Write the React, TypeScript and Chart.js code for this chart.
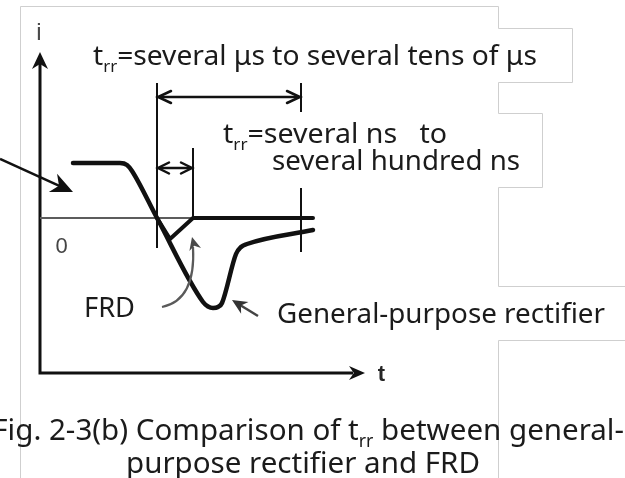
import React, { useEffect, useRef } from "react";
import { Chart, registerables } from "chart.js";

Chart.register(...registerables);

// Reverse-recovery current waveforms: t in time units, i in current units.
const GENERAL_T = [3.3, 8.0, 8.7, 9.2, 11.7, 16.3, 16.8, 17.3, 17.8, 18.2, 19.6, 20.1, 20.7, 27.3];
const GENERAL_I = [5.5, 5.5, 5.3, 4.7, 0, -8.4, -8.85, -9.0, -8.9, -8.5, -3.6, -2.9, -2.6, -1.2];
const FRD_T = [11.7, 13.0, 15.3, 27.3];
const FRD_I = [0, -2.1, 0, 0];
const ZERO_T = [0, 27.3];
const ZERO_I = [0, 0];

// Recovery time markers (t values)
const TRR_START = 11.7;
const FRD_TRR_END = 15.3;
const GENERAL_TRR_END = 26.1;

// Axis extents
const T_MIN = -4.0;
const T_MAX = 58.5;
const I_MIN = -26.0;
const I_MAX = 21.8;
const AXIS_I = -15.5;
const AXIS_T_END = 32.5;
const AXIS_I_TOP = 16.6;

const FONT = '"Noto Sans", "Open Sans", sans-serif';
const AXIS_FONT = '"Liberation Sans", Arial, sans-serif';
const INK = "#1b1b1b";

type Run = { text: string; sub?: boolean };

const TOP_LABEL: Run[] = [{ text: "t" }, { text: "rr", sub: true }, { text: "=several \u03bcs to several tens of \u03bcs" }];
const FAST_LABEL_1: Run[] = [{ text: "t" }, { text: "rr", sub: true }, { text: "=several ns   to" }];
const FAST_LABEL_2: Run[] = [{ text: "several hundred ns" }];
const FRD_LABEL: Run[] = [{ text: "FRD" }];
const GENERAL_LABEL: Run[] = [{ text: "General-purpose rectifier" }];
const CAPTION_1: Run[] = [
  { text: "Fig. 2-3(b) Comparison of t" },
  { text: "rr", sub: true },
  { text: " between general-" },
];
const CAPTION_2: Run[] = [{ text: "purpose rectifier and FRD" }];

function pts(ts: number[], is: number[]) {
  return ts.map((t, k) => ({ x: t, y: is[k] }));
}

function measureRuns(ctx: CanvasRenderingContext2D, runs: Run[], size: number) {
  return runs.map((r) => {
    ctx.font = `${r.sub ? size * 0.6 : size}px ${FONT}`;
    return ctx.measureText(r.text).width;
  });
}

function drawRuns(
  ctx: CanvasRenderingContext2D,
  runs: Run[],
  x: number,
  y: number,
  size: number,
  targetW: number | null,
  align: "left" | "right" = "left",
  scaleOverride?: number
) {
  const widths = measureRuns(ctx, runs, size);
  const natural = widths.reduce((a, b) => a + b, 0);
  const sx = scaleOverride ?? (targetW ? targetW / natural : 1);
  const startX = align === "right" ? x - natural * sx : x;
  ctx.save();
  ctx.fillStyle = INK;
  ctx.textBaseline = "alphabetic";
  ctx.textAlign = "left";
  ctx.translate(startX, y);
  ctx.scale(sx, 1);
  let cx = 0;
  runs.forEach((r, k) => {
    ctx.font = `${r.sub ? size * 0.6 : size}px ${FONT}`;
    ctx.fillText(r.text, cx, r.sub ? size * 0.25 : 0);
    cx += widths[k];
  });
  ctx.restore();
  return sx;
}

function head(
  ctx: CanvasRenderingContext2D,
  tx: number,
  ty: number,
  ang: number,
  len: number,
  half: number,
  filled: boolean,
  color: string
) {
  const bx = tx - Math.cos(ang) * len;
  const by = ty - Math.sin(ang) * len;
  const nx = -Math.sin(ang) * half;
  const ny = Math.cos(ang) * half;
  ctx.save();
  ctx.strokeStyle = color;
  ctx.fillStyle = color;
  ctx.beginPath();
  if (filled) {
    const nxb = tx - Math.cos(ang) * len * 0.7;
    const nyb = ty - Math.sin(ang) * len * 0.7;
    ctx.moveTo(tx, ty);
    ctx.lineTo(bx + nx, by + ny);
    ctx.lineTo(nxb, nyb);
    ctx.lineTo(bx - nx, by - ny);
    ctx.closePath();
    ctx.fill();
  } else {
    ctx.lineWidth = 2.5;
    ctx.lineCap = "round";
    ctx.lineJoin = "miter";
    ctx.moveTo(bx + nx, by + ny);
    ctx.lineTo(tx, ty);
    ctx.lineTo(bx - nx, by - ny);
    ctx.stroke();
  }
  ctx.restore();
}

const diagramPlugin = {
  id: "recoveryDiagram",
  beforeDatasetsDraw(chart: any) {
    const ctx: CanvasRenderingContext2D = chart.ctx;
    const X = (t: number) => chart.scales.x.getPixelForValue(t);
    const Y = (i: number) => chart.scales.y.getPixelForValue(i);

    // page frame and text box outlines
    ctx.save();
    ctx.strokeStyle = "#cfcfcf";
    ctx.lineWidth = 1;
    ctx.beginPath();
    ctx.moveTo(20.5, 478);
    ctx.lineTo(20.5, 6.5);
    ctx.lineTo(498.5, 6.5);
    ctx.lineTo(498.5, 28.5);
    ctx.lineTo(572.5, 28.5);
    ctx.lineTo(572.5, 82.5);
    ctx.lineTo(498.5, 82.5);
    ctx.lineTo(498.5, 113.5);
    ctx.lineTo(542.5, 113.5);
    ctx.lineTo(542.5, 187.5);
    ctx.lineTo(498.5, 187.5);
    ctx.lineTo(498.5, 286.5);
    ctx.lineTo(625, 286.5);
    ctx.moveTo(625, 340.5);
    ctx.lineTo(498.5, 340.5);
    ctx.lineTo(498.5, 478);
    ctx.stroke();
    ctx.restore();

    // i and t axes
    ctx.save();
    ctx.strokeStyle = "#111";
    ctx.lineWidth = 3;
    ctx.beginPath();
    ctx.moveTo(X(0), Y(AXIS_I_TOP) + 12);
    ctx.lineTo(X(0), Y(AXIS_I));
    ctx.lineTo(X(AXIS_T_END) - 12, Y(AXIS_I));
    ctx.stroke();
    ctx.restore();
    head(ctx, X(0), Y(AXIS_I_TOP), -Math.PI / 2, 17, 8, true, "#111");
    head(ctx, X(AXIS_T_END), Y(AXIS_I), 0, 16, 7, true, "#111");

    ctx.save();
    ctx.textAlign = "center";
    ctx.textBaseline = "alphabetic";
    ctx.fillStyle = "#4a4a4a";
    ctx.font = `24px ${AXIS_FONT}`;
    ctx.fillText("i", X(0) - 1, 40);
    ctx.fillStyle = "#444";
    ctx.font = `22px ${AXIS_FONT}`;
    ctx.fillText("0", 61.5, 253);
    ctx.fillStyle = "#262626";
    ctx.font = `bold 22px ${AXIS_FONT}`;
    ctx.fillText("t", 381.5, 381);
    ctx.restore();
  },
  afterDatasetsDraw(chart: any) {
    const ctx: CanvasRenderingContext2D = chart.ctx;
    const X = (t: number) => chart.scales.x.getPixelForValue(t);
    const Y = (i: number) => chart.scales.y.getPixelForValue(i);

    // recovery time markers
    ctx.save();
    ctx.strokeStyle = "#111";
    ctx.lineWidth = 2;
    ctx.beginPath();
    ctx.moveTo(X(TRR_START), Y(13.5));
    ctx.lineTo(X(TRR_START), Y(-3.0));
    ctx.moveTo(X(FRD_TRR_END), Y(7.0));
    ctx.lineTo(X(FRD_TRR_END), Y(0));
    ctx.moveTo(X(GENERAL_TRR_END), Y(13.5));
    ctx.lineTo(X(GENERAL_TRR_END), Y(10.6));
    ctx.moveTo(X(GENERAL_TRR_END), Y(3.0));
    ctx.lineTo(X(GENERAL_TRR_END), Y(-3.4));
    ctx.stroke();

    // dimension arrows
    ctx.lineWidth = 2.5;
    ctx.beginPath();
    ctx.moveTo(X(TRR_START) + 2, Y(12.1));
    ctx.lineTo(X(GENERAL_TRR_END) - 2, Y(12.1));
    ctx.moveTo(X(TRR_START) + 2, Y(5.0));
    ctx.lineTo(X(FRD_TRR_END) - 2, Y(5.0));
    ctx.stroke();
    ctx.restore();
    head(ctx, X(TRR_START) + 1, Y(12.1), Math.PI, 13, 6, false, "#111");
    head(ctx, X(GENERAL_TRR_END) - 1, Y(12.1), 0, 13, 6, false, "#111");
    head(ctx, X(TRR_START) + 1, Y(5.0), Math.PI, 11, 5.5, false, "#111");
    head(ctx, X(FRD_TRR_END) - 1, Y(5.0), 0, 11, 5.5, false, "#111");

    // pointer from the left to the forward-current level
    {
      const x0 = X(-4), y0 = Y(5.9), x1 = X(3.3), y1 = Y(2.6);
      const ang = Math.atan2(y1 - y0, x1 - x0);
      ctx.save();
      ctx.strokeStyle = "#111";
      ctx.lineWidth = 2.5;
      ctx.beginPath();
      ctx.moveTo(x0, y0);
      ctx.lineTo(x1 - Math.cos(ang) * 12, y1 - Math.sin(ang) * 12);
      ctx.stroke();
      ctx.restore();
      head(ctx, x1, y1, ang, 22, 10, true, "#111");
    }

    // curved pointer from the FRD label
    {
      const x0 = X(12.2), y0 = Y(-8.9);
      const cx = X(15.6), cy = Y(-8.2);
      const x1 = X(15.3), y1 = Y(-2.9);
      ctx.save();
      ctx.strokeStyle = "#5a5a5a";
      ctx.lineWidth = 2.2;
      ctx.beginPath();
      ctx.moveTo(x0, y0);
      ctx.quadraticCurveTo(cx, cy, x1, y1);
      ctx.stroke();
      ctx.restore();
      head(ctx, X(15.2), Y(-1.9), -Math.PI / 2 - 0.25, 13, 6, true, "#4a4a4a");
    }

    // pointer from the general-purpose label
    {
      const x0 = X(21.8), y0 = Y(-9.8), x1 = X(19.2), y1 = Y(-8.2);
      const ang = Math.atan2(y1 - y0, x1 - x0);
      ctx.save();
      ctx.strokeStyle = "#444";
      ctx.lineWidth = 2.5;
      ctx.beginPath();
      ctx.moveTo(x0, y0);
      ctx.lineTo(x1 - Math.cos(ang) * 8, y1 - Math.sin(ang) * 8);
      ctx.stroke();
      ctx.restore();
      head(ctx, x1, y1, ang, 15, 7, true, "#333");
    }

    // labels
    drawRuns(ctx, TOP_LABEL, 93, 65, 27, 444);
    drawRuns(ctx, FAST_LABEL_1, 223, 143, 27, 224);
    drawRuns(ctx, FAST_LABEL_2, 272, 170, 27, 248);
    drawRuns(ctx, FRD_LABEL, 84, 317, 27, 51);
    drawRuns(ctx, GENERAL_LABEL, 277, 323, 28, 328);
    const capScale = drawRuns(ctx, CAPTION_2, 126, 473, 29, 354);
    drawRuns(ctx, CAPTION_1, 624, 440, 29, null, "right", capScale);
  },
};

export default function App() {
  const canvasRef = useRef<HTMLCanvasElement | null>(null);

  useEffect(() => {
    const canvas = canvasRef.current;
    if (!canvas) return;
    const chart = new Chart(canvas, {
      type: "line",
      data: {
        datasets: [
          {
            label: "General-purpose rectifier",
            data: pts(GENERAL_T, GENERAL_I),
            borderColor: "#111",
            borderWidth: 4.5,
            pointRadius: 0,
            cubicInterpolationMode: "monotone",
            borderCapStyle: "round",
            borderJoinStyle: "round",
            fill: false,
          },
          {
            label: "FRD",
            data: pts(FRD_T, FRD_I),
            borderColor: "#111",
            borderWidth: 4,
            pointRadius: 0,
            tension: 0,
            borderCapStyle: "round",
            borderJoinStyle: "round",
            fill: false,
          },
          {
            label: "i = 0",
            data: pts(ZERO_T, ZERO_I),
            borderColor: "#5c5c5c",
            borderWidth: 1.8,
            pointRadius: 0,
            tension: 0,
            fill: false,
          },
        ],
      },
      options: {
        animation: false,
        responsive: false,
        maintainAspectRatio: false,
        layout: { padding: 0 },
        events: [],
        scales: {
          x: { type: "linear", min: T_MIN, max: T_MAX, display: false },
          y: { type: "linear", min: I_MIN, max: I_MAX, display: false },
        },
        plugins: {
          legend: { display: false },
          tooltip: { enabled: false },
          title: { display: false },
        },
      },
      plugins: [diagramPlugin],
    });
    return () => chart.destroy();
  }, []);

  return (
    <div style={{ position: "fixed", left: 0, top: 0, width: 625, height: 478, background: "#fff" }}>
      <canvas ref={canvasRef} width={625} height={478} style={{ display: "block" }} />
    </div>
  );
}
